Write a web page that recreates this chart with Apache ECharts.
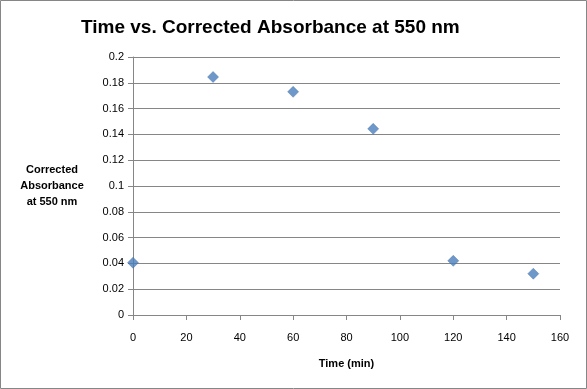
<!DOCTYPE html>
<html><head><meta charset="utf-8">
<script src="https://cdn.jsdelivr.net/npm/echarts@6/dist/echarts.min.js"></script>
<style>html,body{margin:0;padding:0;background:#fff}#c{width:587px;height:389px}</style>
</head><body><div id="c"></div>
<script>
const timeMin = [0, 30, 60, 90, 120, 150];
const absorbance = [0.0405, 0.1845, 0.173, 0.1443, 0.042, 0.032];
const titleText = 'Time vs. Corrected Absorbance at 550 nm';
const xName = 'Time (min)';
const yName = 'Corrected\nAbsorbance\nat 550 nm';
const font = 'Liberation Sans';
const chart = echarts.init(document.getElementById('c'));
chart.setOption({
  backgroundColor: '#fff',
  animation: false,
  title: { text: titleText, left: 76, top: 13,
    textStyle: { fontFamily: font, fontSize: 19, fontWeight: 'bold', color: '#000' } },
  graphic: [{ type: 'rect', shape: { x: 0.5, y: 0.5, width: 586, height: 388 },
    style: { fill: 'none', stroke: '#868686', lineWidth: 1 }, silent: true }],
  grid: { left: 133, top: 57, width: 427, height: 258 },
  xAxis: { type: 'value', min: 0, max: 160, interval: 20,
    name: xName, nameLocation: 'middle', nameGap: 43,
    nameTextStyle: { fontFamily: font, fontSize: 11, fontWeight: 'bold', color: '#000' },
    axisLine: { show: true, lineStyle: { color: '#868686' } },
    axisTick: { show: true, length: 5, inside: false, lineStyle: { color: '#868686' } },
    axisLabel: { fontFamily: font, fontSize: 11, color: '#000', margin: 17 },
    splitLine: { show: false } },
  yAxis: { type: 'value', min: 0, max: 0.2, interval: 0.02,
    name: yName, nameLocation: 'middle', nameRotate: 0, nameGap: 81,
    nameTextStyle: { fontFamily: font, fontSize: 11, fontWeight: 'bold', color: '#000', lineHeight: 16, align: 'center' },
    axisLine: { show: true, lineStyle: { color: '#868686' } },
    axisTick: { show: true, length: 5, inside: false, lineStyle: { color: '#868686' } },
    axisLabel: { fontFamily: font, fontSize: 11, color: '#000', margin: 9,
      formatter: v => String(+v.toFixed(2)) },
    splitLine: { show: true, lineStyle: { color: '#868686', width: 1 } } },
  series: [{ type: 'scatter', symbol: 'diamond', symbolSize: 11,
    data: timeMin.map((t, i) => [t, absorbance[i]]),
    itemStyle: { color: '#4A7EBB', borderColor: '#3d6aa0', borderWidth: 0.5 } }]
});
</script></body></html>
